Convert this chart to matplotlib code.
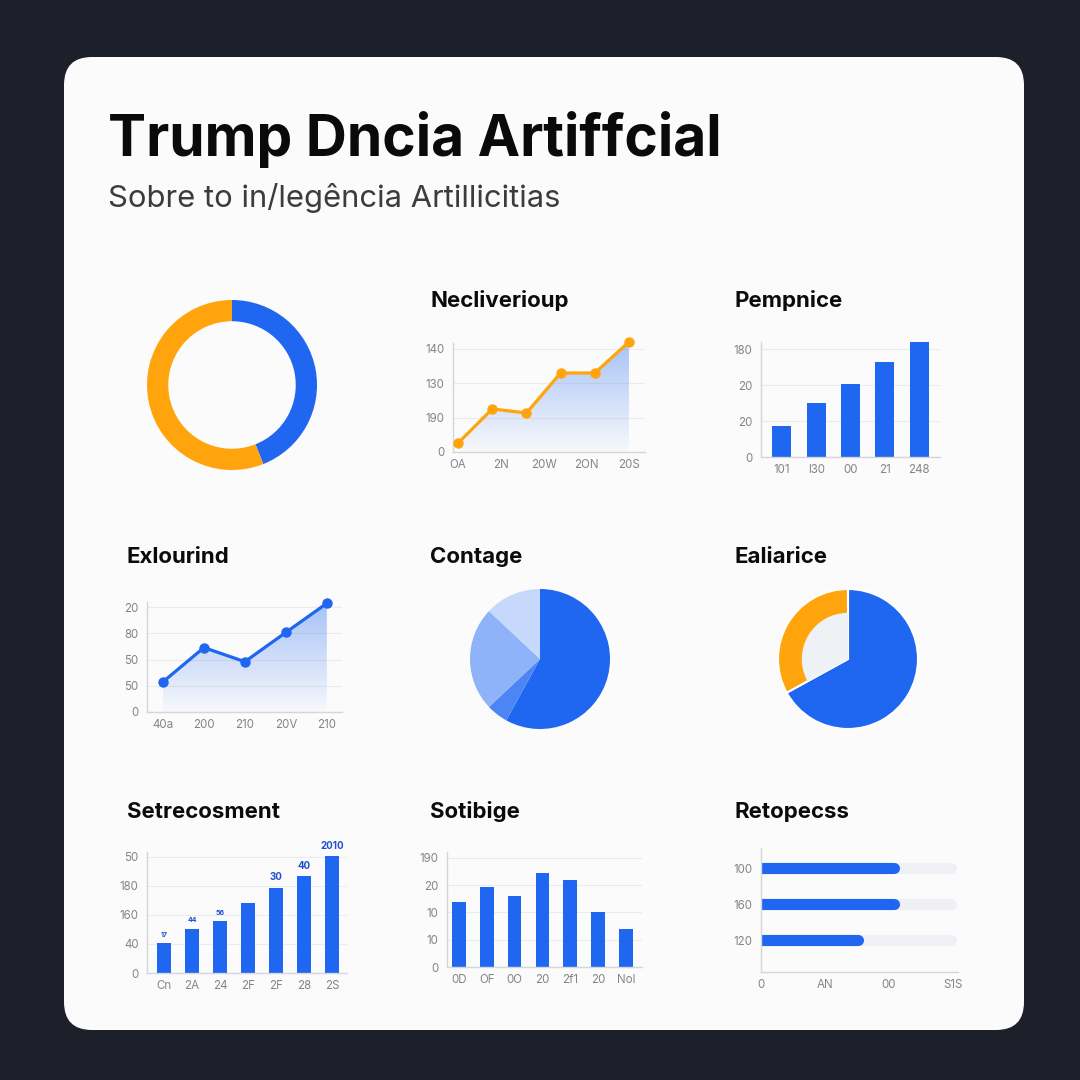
import numpy as np
import matplotlib
matplotlib.use('Agg')
import matplotlib.pyplot as plt
from matplotlib.colors import to_rgb
from matplotlib.patches import FancyBboxPatch

plt.rcParams['font.family'] = ['Inter', 'DejaVu Sans']

BLUE = '#1f66f0'
ORANGE = '#ffa40c'
TICK = '#858585'

# ---- data (in grid units) ----
ring_values = [44, 56]

trend_labels = ['OA', '2N', '20W', '2ON', '20S']
trend_values = [0.26, 1.25, 1.13, 2.29, 2.29, 3.19]
trend_yticks = ['0', '190', '130', '140']

perf_labels = ['101', 'l30', '00', '21', '248']
perf_values = [0.86, 1.5, 2.03, 2.64, 3.19]
perf_yticks = ['0', '20', '20', '180']

explore_labels = ['40a', '200', '210', '20V', '210']
explore_values = [1.15, 2.46, 1.92, 3.04, 4.15]
explore_yticks = ['0', '50', '50', '80', '20']

contage_values = [58, 5, 24, 13]

balance_values = [67, 33]

setre_labels = ['Cn', '2A', '24', '2F', '2F', '28', '2S']
setre_values = [1.03, 1.52, 1.79, 2.41, 2.93, 3.34, 4.03]
setre_annot = ['17', '44', '56', '', '30', '40', '2010']
setre_yticks = ['0', '40', '160', '180', '50']

sotib_labels = ['0D', 'OF', '0O', '20', '2f1', '20', 'Nol']
sotib_values = [2.38, 2.93, 2.6, 3.44, 3.19, 2.01, 1.39]
sotib_yticks = ['0', '10', '10', '20', '190']

progress_labels = ['100', '160', '120']
progress_values = [2.17, 2.17, 1.6]
progress_track = 3.06
progress_xticks = ['0', 'AN', '00', 'S1S']

W = H = 1080


def box(x0, y0, x1, y1):
    return [x0 / W, 1 - y1 / H, (x1 - x0) / W, (y1 - y0) / H]


def style_axes(ax, grid=True):
    for s in ['top', 'right']:
        ax.spines[s].set_visible(False)
    for s in ['left', 'bottom']:
        ax.spines[s].set_color('#d3d6db')
        ax.spines[s].set_linewidth(1)
    ax.tick_params(length=0, labelsize=8.3, labelcolor=TICK)
    ax.tick_params(axis='y', pad=6)
    ax.tick_params(axis='x', pad=5)
    if grid:
        ax.grid(axis='y', color='#ebebeb', lw=0.8)
    ax.set_axisbelow(True)
    ax.patch.set_alpha(0)


def gradient_fill(ax, x, y, color):
    poly = ax.fill_between(x, y, 0, facecolor='none', edgecolor='none')
    grad = np.zeros((100, 1, 4))
    grad[:, :, :3] = to_rgb(color)
    grad[:, 0, 3] = np.linspace(0.38, 0.02, 100)
    im = ax.imshow(grad, aspect='auto', origin='upper', zorder=1,
                   extent=[min(x), max(x), 0, max(y)])
    im.set_clip_path(poly.get_paths()[0], transform=ax.transData)


def panel_title(x, y, s):
    fig.text(x / W, 1 - y / H, s, fontsize=16, weight='bold',
             color='#0b0b0b', va='baseline')


fig = plt.figure(figsize=(10.8, 10.8), dpi=100)
fig.patch.set_facecolor('#1d202b')

bg = fig.add_axes([0, 0, 1, 1])
bg.set_xlim(0, W)
bg.set_ylim(H, 0)
bg.axis('off')
bg.add_patch(FancyBboxPatch((64, 57), 960, 973,
                            boxstyle='round,pad=0,rounding_size=28',
                            fc='#fbfbfb', ec='none'))

fig.text(108 / W, 1 - 156 / H, 'Trump Dncia Artiffcial', fontsize=41,
         weight='bold', color='#0a0a0a', va='baseline')
fig.text(108 / W, 1 - 207 / H, 'Sobre to in/legência Artillicitias',
         fontsize=22.3, color='#3c3c3c', va='baseline')

# ---- row 1 ----
ax = fig.add_axes(box(147, 300, 317, 470))
ax.pie(ring_values, colors=[BLUE, ORANGE], startangle=90, counterclock=False,
       radius=1, wedgeprops=dict(width=0.25, edgecolor='none'))
ax.set_xlim(-1, 1)
ax.set_ylim(-1, 1)

panel_title(430, 307, 'Necliverioup')
ax = fig.add_axes(box(453, 343, 645, 452))
style_axes(ax)
x = np.arange(len(trend_values))
gradient_fill(ax, x, trend_values, BLUE)
ax.plot(x, trend_values, color=ORANGE, lw=2.3, marker='o', ms=6.5,
        clip_on=False, zorder=3)
ax.set_xlim(-0.15, 5.47)
ax.set_ylim(0, 3.16)
ax.set_yticks(range(len(trend_yticks)), trend_yticks)
ax.set_xticks(np.linspace(0, 5, len(trend_labels)), trend_labels)

panel_title(735, 307, 'Pempnice')
ax = fig.add_axes(box(761, 342, 940, 457))
style_axes(ax)
ax.bar(range(len(perf_values)), perf_values, width=0.55, color=BLUE, zorder=2)
ax.set_xlim(-0.61, 4.61)
ax.set_ylim(0, 3.2)
ax.set_yticks(range(len(perf_yticks)), perf_yticks)
ax.set_xticks(range(len(perf_labels)), perf_labels)

# ---- row 2 ----
panel_title(127, 563, 'Exlourind')
ax = fig.add_axes(box(147, 602, 342, 712))
style_axes(ax)
x = np.arange(len(explore_values))
gradient_fill(ax, x, explore_values, BLUE)
ax.plot(x, explore_values, color=BLUE, lw=2.3, marker='o', ms=6.5,
        clip_on=False, zorder=3)
ax.set_xlim(-0.39, 4.37)
ax.set_ylim(0, 4.2)
ax.set_yticks(range(len(explore_yticks)), explore_yticks)
ax.set_xticks(x, explore_labels)

panel_title(430, 563, 'Contage')
ax = fig.add_axes(box(470, 589, 610, 729))
ax.pie(contage_values, colors=['#1f66f0', '#4d86f4', '#8fb3f8', '#c6d8fb'],
       startangle=90, counterclock=False, wedgeprops=dict(edgecolor='none'))
ax.set_xlim(-1, 1)
ax.set_ylim(-1, 1)

panel_title(735, 563, 'Ealiarice')
ax = fig.add_axes(box(778, 589, 918, 729))
ax.pie(balance_values, colors=[BLUE, ORANGE], startangle=90, counterclock=False,
       wedgeprops=dict(edgecolor='white', linewidth=1.5))
ax.pie(balance_values, colors=['none', '#eef1f5'], startangle=90,
       counterclock=False, radius=0.66, wedgeprops=dict(edgecolor='none'))
ax.set_xlim(-1, 1)
ax.set_ylim(-1, 1)

# ---- row 3 ----
panel_title(127, 818, 'Setrecosment')
ax = fig.add_axes(box(147, 852, 347, 973))
style_axes(ax)
bars = ax.bar(range(len(setre_values)), setre_values, width=0.5, color=BLUE,
              zorder=2)
for i, (b, s) in enumerate(zip(bars, setre_annot)):
    ax.annotate(s, (b.get_x() + b.get_width() / 2, b.get_height()),
                xytext=(0, 4), textcoords='offset points', ha='center',
                va='bottom', color='#1f4fd0', fontsize=5 if i < 3 else 7,
                weight='bold', annotation_clip=False)
ax.set_xlim(-0.61, 6.54)
ax.set_ylim(0, 4.17)
ax.set_yticks(range(len(setre_yticks)), setre_yticks)
ax.set_xticks(range(len(setre_labels)), setre_labels)

panel_title(430, 818, 'Sotibige')
ax = fig.add_axes(box(447, 852, 642, 967))
style_axes(ax)
ax.bar(range(len(sotib_values)), sotib_values, width=0.49, color=BLUE, zorder=2)
ax.set_xlim(-0.43, 6.58)
ax.set_ylim(0, 4.21)
ax.set_yticks(range(len(sotib_yticks)), sotib_yticks)
ax.set_xticks(range(len(sotib_labels)), sotib_labels)

panel_title(735, 818, 'Retopecss')
ax = fig.add_axes(box(761, 848, 958, 972))
style_axes(ax, grid=False)
ax.set_xlim(0, 3.08)
ax.set_ylim(-0.89, 2.56)
lw_pt = 8
cap = (lw_pt * 100 / 72 / 2) / ((958 - 761) / 3.08)
ypos = np.arange(len(progress_values))[::-1]
for yp, v in zip(ypos, progress_values):
    ax.plot([0, progress_track - cap], [yp, yp], color='#eef0f3', lw=lw_pt,
            solid_capstyle='round')
    ax.plot([0, v - cap], [yp, yp], color=BLUE, lw=lw_pt,
            solid_capstyle='round')
ax.set_yticks(ypos, progress_labels)
ax.set_xticks(range(len(progress_xticks)), progress_xticks)

fig.savefig('out.png', dpi=100, facecolor=fig.get_facecolor())
